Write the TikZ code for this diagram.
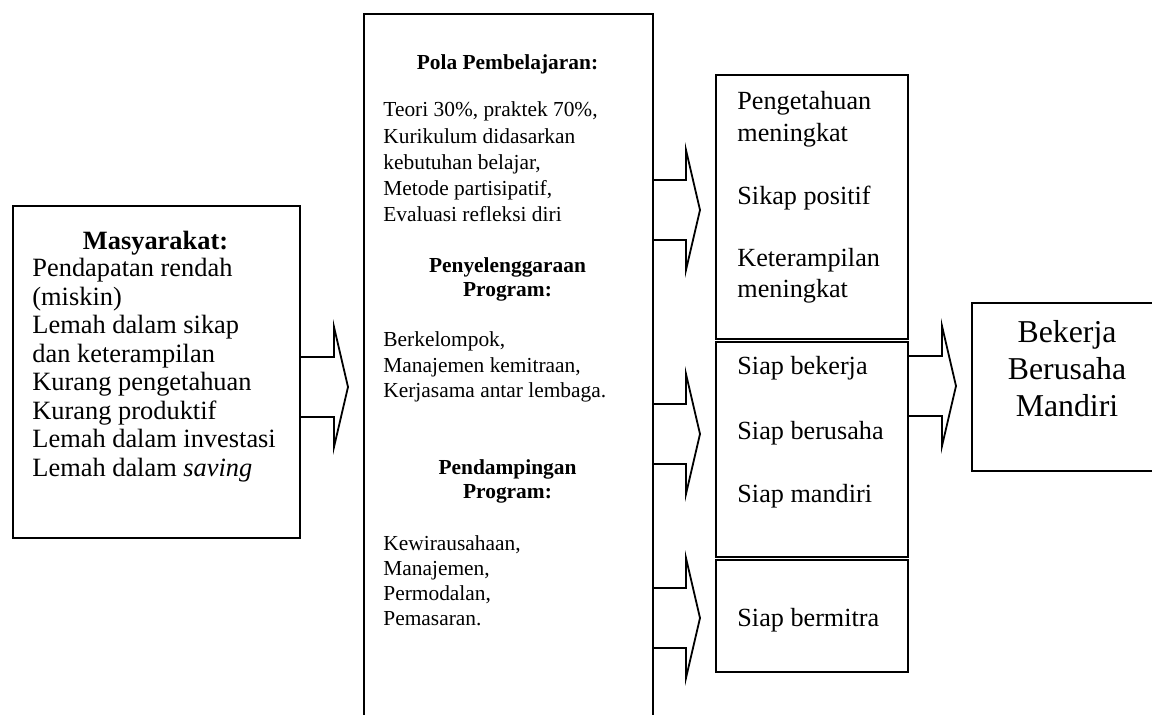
\documentclass[tikz,border=0pt]{standalone}
\usepackage{fontspec}
\setmainfont{Liberation Serif}
\usetikzlibrary{calc}
\tikzset{
  box/.style     ={rectangle, draw=black, line width=.9pt, anchor=north west, inner sep=0pt},
  blk/.style     ={draw=black, line width=.9pt, line join=miter},
  soctxt/.style  ={font=\fontsize{13.2}{14.2}\selectfont, inner sep=0pt},
  midtxt/.style  ={font=\fontsize{10.7}{12.8}\selectfont, inner sep=0pt},
  midhead/.style ={font=\fontsize{10.7}{12.8}\selectfont\bfseries, inner sep=0pt, anchor=base},
  outtxt/.style  ={font=\fontsize{13.1}{15.8}\selectfont, inner sep=0pt, anchor=base west},
  fintxt/.style  ={font=\fontsize{15.9}{18.5}\selectfont, inner sep=0pt, anchor=base},
}
\begin{document}
\begin{tikzpicture}[x=0.5pt,y=-0.5pt]
  \useasboundingbox (0,0) rectangle (1152,715);
  \clip (0,0) rectangle (1152,715);

  \node[box,minimum width=143.5pt,minimum height=166pt] (soc) at (12,205) {};
  \node[box,minimum width=144.5pt,minimum height=373.5pt] (mid) at (363,13) {};
  \node[box,minimum width=96pt,minimum height=132pt] (outa) at (715,74) {};
  \node[box,minimum width=96pt,minimum height=107.5pt] (outb) at (715,341) {};
  \node[box,minimum width=96pt,minimum height=56pt] (outc) at (715,559) {};
  \node[box,minimum width=102pt,minimum height=84pt] (fin) at (971,302) {};

  % masyarakat
  \node[soctxt,font=\fontsize{13.2}{14.2}\selectfont\bfseries,anchor=base] (sh) at (155.5,250) {Masyarakat:};
  \foreach \t [count=\i from 0] in {Pendapatan rendah, (miskin), Lemah dalam sikap, dan keterampilan,
      Kurang pengetahuan, Kurang produktif, Lemah dalam investasi, Lemah dalam \textit{saving}}
    \node[soctxt,anchor=base west] (s\i) at (32,277+28.5*\i) {\t};

  % program
  \foreach \t/\y [count=\i] in {Pola Pembelajaran:/70, Penyelenggaraan/273, Program:/297,
      Pendampingan/475, Program:/499}
    \node[midhead] (h\i) at (507.5,\y) {\t};
  \foreach \t [count=\i from 0] in {{Teori 30\%, praktek 70\%,}, Kurikulum didasarkan,
      {kebutuhan belajar,}, {Metode partisipatif,}, Evaluasi refleksi diri}
    \node[midtxt,anchor=base west] (pa\i) at (383,117+26.25*\i) {\t};
  \foreach \t [count=\i from 0] in {{Berkelompok,}, {Manajemen kemitraan,}, Kerjasama antar lembaga.}
    \node[midtxt,anchor=base west] (pb\i) at (383,347+25.5*\i) {\t};
  \foreach \t [count=\i from 0] in {{Kewirausahaan,}, {Manajemen,}, {Permodalan,}, Pemasaran.}
    \node[midtxt,anchor=base west] (pc\i) at (383,551+25*\i) {\t};

  % hasil
  \foreach \t/\y [count=\i] in {Pengetahuan/110, meningkat/142, Sikap positif/205, Keterampilan/267,
      meningkat/298, Siap bekerja/375, Siap berusaha/440, Siap mandiri/503, Siap bermitra/627}
    \node[outtxt] (o\i) at (737,\y) {\t};
  \foreach \t/\y [count=\i] in {Bekerja/343, Berusaha/380, Mandiri/417}
    \node[fintxt] (f\i) at (1067,\y) {\t};

  % block arrows
  \foreach \s/\d/\y in {soc/mid/387, mid/outa/210, mid/outb/434, mid/outc/618, outb/fin/386}{
    \coordinate (m) at (0,\y);
    \draw[blk] ($(\s.east |- m)+(0,-30)$) -- ($(\d.west |- m)+(-29,-30)$)
      -- ($(\d.west |- m)+(-29,-60)$) -- ($(\d.west |- m)+(-15,0)$)
      -- ($(\d.west |- m)+(-29,60)$) -- ($(\d.west |- m)+(-29,30)$)
      -- ($(\s.east |- m)+(0,30)$);
  }
\end{tikzpicture}
\end{document}
